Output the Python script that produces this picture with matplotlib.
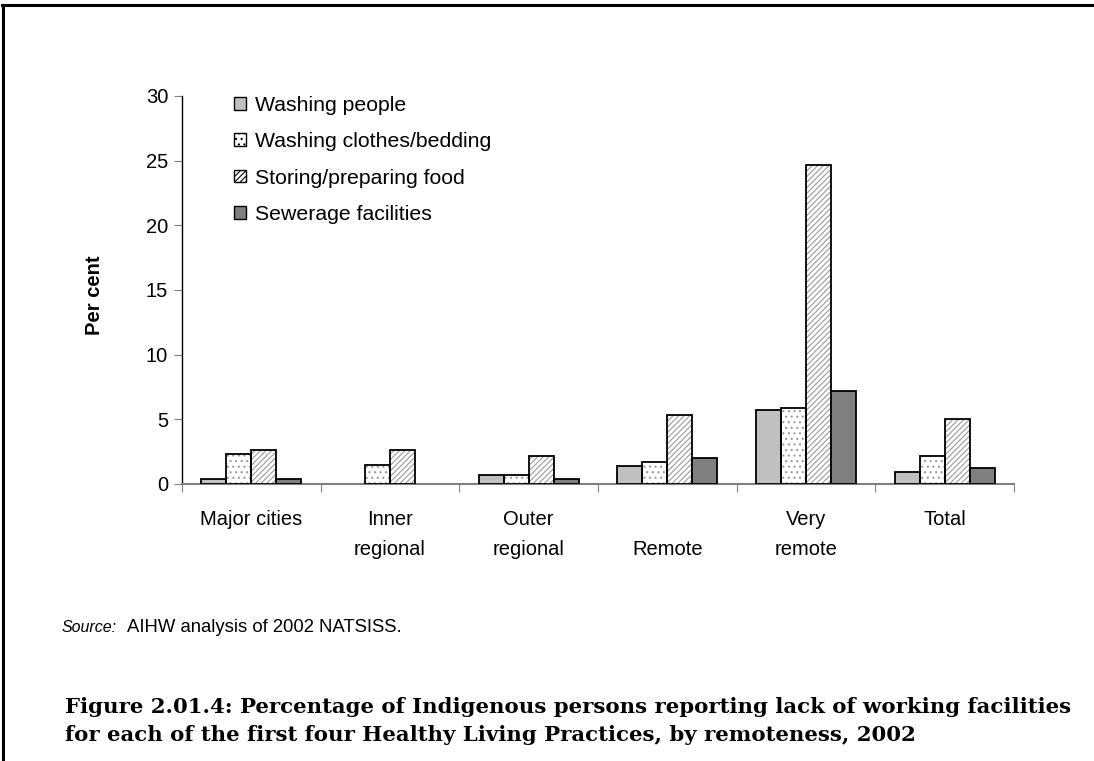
import numpy as np
import matplotlib
matplotlib.use('Agg')
import matplotlib.pyplot as plt
from matplotlib.patches import Patch
from matplotlib.lines import Line2D

plt.rcParams['font.family'] = ['Liberation Sans', 'DejaVu Sans']
plt.rcParams['hatch.linewidth'] = 0.8

# data
regions = ['Major cities', 'Inner\nregional', 'Outer\nregional', '\nRemote', 'Very\nremote', 'Total']
series_names = ['Washing people', 'Washing clothes/bedding', 'Storing/preparing food', 'Sewerage facilities']
washing_people = [0.4, 0.0, 0.7, 1.4, 5.7, 0.9]
washing_clothes = [2.3, 1.5, 0.7, 1.7, 5.9, 2.2]
storing_food = [2.6, 2.6, 2.2, 5.3, 24.7, 5.0]
sewerage = [0.4, 0.0, 0.4, 2.0, 7.2, 1.2]
y_ticks = [0, 5, 10, 15, 20, 25, 30]

face_colors = ['#c0c0c0', 'white', 'white', '#808080']
hatches = [None, '...', '//////', None]
fs = 14.5

fig = plt.figure(figsize=(10.94, 7.61), dpi=100)
ax = fig.add_axes([0.1664, 0.364, 0.7605, 0.5099])

x = np.arange(len(regions))
bar_w = 0.18
offsets = [-1.5 * bar_w, -0.5 * bar_w, 0.5 * bar_w, 1.5 * bar_w]
all_series = [washing_people, washing_clothes, storing_food, sewerage]

for vals, off, fc, h in zip(all_series, offsets, face_colors, hatches):
    vals = np.array(vals)
    keep = vals > 0
    if h:
        # gray hatch underneath, black outline on top
        ax.bar(x[keep] + off, vals[keep], bar_w, color=fc, edgecolor='#9a9a9a',
               hatch=h, linewidth=0, zorder=3)
        ax.bar(x[keep] + off, vals[keep], bar_w, fill=False, edgecolor='black',
               linewidth=1.3, zorder=4)
    else:
        ax.bar(x[keep] + off, vals[keep], bar_w, color=fc, edgecolor='black',
               linewidth=1.3, zorder=4)

ax.set_xlim(-0.5, len(regions) - 0.5)
ax.set_ylim(0, 30)
ax.set_yticks(y_ticks)
ax.tick_params(axis='y', labelsize=fs, length=6, color='#808080', direction='out', pad=4)

# category ticks between groups, labels centred on groups
ax.set_xticks(np.arange(-0.5, len(regions), 1.0))
ax.set_xticklabels([])
ax.set_xticks(x, minor=True)
ax.set_xticklabels(regions, minor=True, fontsize=fs, va='top', linespacing=1.7)
ax.tick_params(axis='x', which='major', length=6, color='#808080', direction='out')
ax.tick_params(axis='x', which='minor', length=0, pad=19)

for s in ['top', 'right']:
    ax.spines[s].set_visible(False)
ax.spines['left'].set_color('black')
ax.spines['left'].set_linewidth(1.0)
ax.spines['bottom'].set_color('#808080')
ax.spines['bottom'].set_linewidth(1.5)

ax.set_ylabel('Per cent', fontsize=fs, fontweight='bold')
ax.yaxis.set_label_coords(-0.094, 0.487)

handles = [Patch(facecolor=fc, edgecolor='black', hatch=h, linewidth=1.0)
           for fc, h in zip(face_colors, hatches)]
ax.legend(handles, series_names, loc='upper left', bbox_to_anchor=(0.04, 1.05),
          frameon=False, fontsize=15.3, handlelength=0.55, handleheight=0.55,
          handletextpad=0.4, labelspacing=0.82)

# source note and caption
fig.text(0.056, 0.176, 'Source:', fontsize=11.5, style='italic', va='center')
fig.text(0.1161, 0.176, 'AIHW analysis of 2002 NATSISS.', fontsize=13.3, va='center')
fig.text(0.059, 0.021, 'Figure 2.01.4: Percentage of Indigenous persons reporting lack of working facilities\n'
         'for each of the first four Healthy Living Practices, by remoteness, 2002',
         fontsize=15.3, fontweight='bold', family=['DejaVu Serif'], va='bottom', linespacing=1.5)

# page frame (top and left rules)
fig.add_artist(Line2D([0.002, 1.0], [0.9935, 0.9935], color='black', linewidth=2.2,
                      transform=fig.transFigure))
fig.add_artist(Line2D([0.0025, 0.0025], [0.0, 0.9935], color='black', linewidth=2.2,
                      transform=fig.transFigure))

fig.savefig('out.png', dpi=100)
